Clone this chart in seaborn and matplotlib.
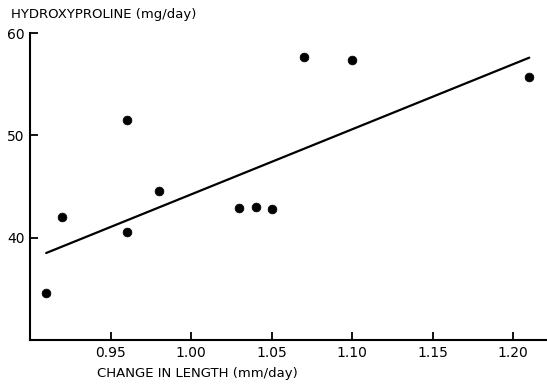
import matplotlib
matplotlib.use("Agg")
import matplotlib.pyplot as plt
import seaborn as sns
import pandas as pd

# values
length_change = [0.91, 0.92, 0.96, 0.96, 0.98, 1.03, 1.04, 1.05, 1.07, 1.10, 1.21]
hydroxyproline = [34.6, 42.0, 51.5, 40.6, 44.6, 42.9, 43.0, 42.8, 57.7, 57.4, 55.7]

# drawn fit line (end points)
fit_x = [0.91, 1.21]
fit_y = [38.5, 57.6]

x_ticks = [0.95, 1.00, 1.05, 1.10, 1.15, 1.20]
y_ticks = [40, 50, 60]

df = pd.DataFrame({"x": length_change, "y": hydroxyproline})
fit = pd.DataFrame({"x": fit_x, "y": fit_y})

sns.set_style("ticks")
plt.rcParams["font.family"] = ["DejaVu Sans"]
plt.rcParams["text.color"] = "black"

fig = plt.figure(figsize=(5.47, 3.85), dpi=100)
ax = fig.add_axes([0.055, 0.117, 0.945, 0.797])

sns.lineplot(data=fit, x="x", y="y", color="black", linewidth=1.6, ax=ax)
sns.scatterplot(data=df, x="x", y="y", color="black", s=40, edgecolor="black", ax=ax)

ax.set_xlim(0.90, 1.221)
ax.set_ylim(30, 60)
ax.set_xticks(x_ticks)
ax.set_xticklabels([f"{t:.2f}" for t in x_ticks])
ax.set_yticks(y_ticks)
ax.set_xlabel("")
ax.set_ylabel("")
sns.despine(ax=ax)
for s in ["left", "bottom"]:
    ax.spines[s].set_linewidth(1.5)
    ax.spines[s].set_color("black")
ax.tick_params(direction="in", length=6, width=1.3, labelsize=10,
               colors="black", labelcolor="black", pad=4)

fig.text(0.021, 0.962, "HYDROXYPROLINE (mg/day)", fontsize=9.5, va="center", ha="left",
         color="black")
fig.text(0.177, 0.031, "CHANGE IN LENGTH (mm/day)", fontsize=9.5, va="center", ha="left",
         color="black")

fig.savefig("out.png", dpi=100)
